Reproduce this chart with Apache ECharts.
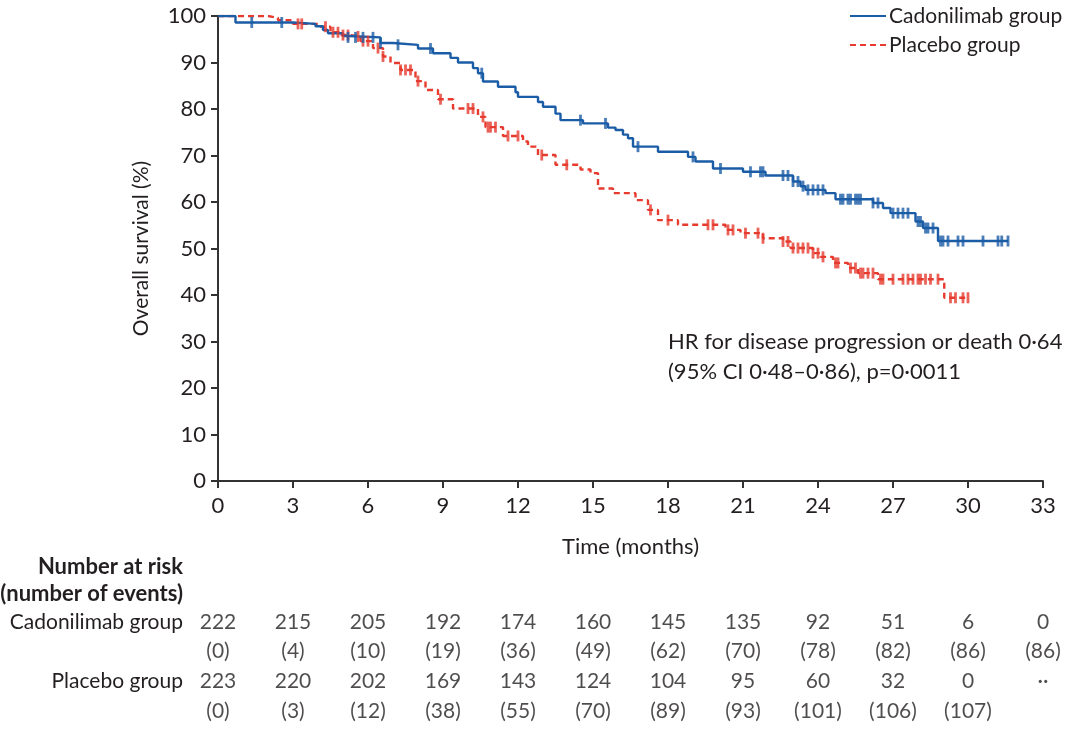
<!DOCTYPE html>
<html>
<head>
<meta charset="utf-8">
<script src="https://cdn.jsdelivr.net/npm/echarts@6/dist/echarts.min.js"></script>
<style>
html,body{margin:0;padding:0;background:#fff;}
#chart{width:1080px;height:738px;}
</style>
</head>
<body>
<div id="chart"></div>
<script>
// ---- Data ----
const cadoTimes = [0, 0.7, 3.0, 3.9, 4.2, 4.4, 5.0, 5.2, 6.5, 7.0, 8.0, 8.6, 9.3, 9.6, 10.2, 10.4, 10.6, 11.2, 11.9, 12.0, 12.8, 13.0, 13.5, 13.7, 14.6, 15.6, 15.9, 16.2, 16.4, 16.6, 17.6, 18.8, 19.1, 19.8, 21.0, 21.9, 23.0, 23.3, 23.5, 24.3, 24.7, 26.2, 26.6, 26.9, 27.9, 28.2, 28.8, 31.6];
const cadoSurv  = [100, 98.6, 98.3, 97.8, 97.0, 96.3, 95.7, 95.4, 94.2, 93.8, 93.0, 92.0, 91.0, 90.0, 88.8, 87.7, 85.9, 84.8, 83.6, 82.6, 81.5, 80.5, 79.0, 77.6, 76.9, 76.0, 75.5, 74.5, 73.7, 71.9, 70.8, 69.7, 68.7, 67.2, 66.5, 65.7, 64.4, 63.4, 62.6, 61.9, 60.6, 59.8, 58.7, 57.6, 55.8, 54.4, 51.6, 51.6];
const placTimes = [0, 2.0, 2.4, 3.0, 4.1, 4.5, 4.9, 5.3, 5.7, 6.2, 6.6, 6.9, 7.3, 7.9, 8.3, 8.8, 9.4, 10.4, 10.7, 11.4, 12.2, 12.4, 12.8, 13.5, 14.5, 14.9, 15.2, 15.8, 16.7, 17.2, 17.6, 18.4, 20.3, 20.9, 21.8, 22.6, 22.9, 23.8, 24.1, 24.6, 25.2, 25.6, 26.4, 29.05, 30.0];
const placSurv  = [100, 99.6, 99.1, 98.3, 97.7, 96.5, 95.9, 95.6, 94.6, 93.1, 91.3, 89.9, 88.4, 86.0, 84.1, 82.1, 80.1, 78.3, 76.1, 74.2, 73.0, 71.9, 70.1, 68.0, 67.0, 66.2, 62.9, 61.9, 60.4, 58.3, 56.1, 55.1, 54.0, 53.3, 52.2, 51.5, 50.1, 49.0, 48.2, 46.9, 45.8, 44.7, 43.4, 39.4, 39.4];
const cadoCensor = [1.35, 2.55, 5.2, 5.5, 5.8, 6.2, 6.5, 7.2, 8.5, 10.55, 14.5, 15.5, 16.8, 19.0, 20.1, 21.3, 21.7, 21.8, 22.6, 22.8, 23.0, 23.2, 23.4, 23.6, 23.8, 24.0, 24.2, 24.9, 25.0, 25.2, 25.3, 25.5, 25.6, 25.7, 26.2, 26.4, 27.0, 27.2, 27.4, 27.6, 28.0, 28.1, 28.3, 28.4, 28.6, 28.9, 29.0, 29.2, 29.6, 29.8, 30.6, 31.2, 31.35, 31.6];
const placCensor = [3.2, 3.35, 4.3, 4.6, 4.8, 5.0, 5.2, 5.6, 5.8, 6.0, 6.4, 6.6, 7.3, 7.5, 7.7, 8.0, 8.9, 10.0, 10.2, 10.6, 10.8, 10.9, 11.1, 11.6, 12.0, 12.95, 13.95, 17.3, 18.0, 19.6, 19.8, 20.4, 20.6, 21.1, 21.6, 21.8, 22.6, 22.8, 23.0, 23.2, 23.4, 23.6, 23.8, 24.0, 24.2, 24.7, 24.8, 25.3, 25.5, 25.7, 25.8, 26.0, 26.2, 26.5, 26.6, 27.0, 27.4, 27.6, 27.8, 28.0, 28.1, 28.3, 28.5, 28.8, 29.3, 29.5, 29.8, 30.0];
const riskTimes  = [0, 3, 6, 9, 12, 15, 18, 21, 24, 27, 30, 33];
const cadoRisk   = ['222', '215', '205', '192', '174', '160', '145', '135', '92', '51', '6', '0'];
const cadoEvents = ['(0)', '(4)', '(10)', '(19)', '(36)', '(49)', '(62)', '(70)', '(78)', '(82)', '(86)', '(86)'];
const placRisk   = ['223', '220', '202', '169', '143', '124', '104', '95', '60', '32', '0', '··'];
const placEvents = ['(0)', '(3)', '(12)', '(38)', '(55)', '(70)', '(89)', '(93)', '(101)', '(106)', '(107)', ''];
const rowLabels  = ['Cadonilimab group', '', 'Placebo group', ''];

// ---- Style ----
const BLUE = '#1b5ca6';
const RED = '#e63b2e';
const TXT = '#231f20';
const FONT = 'Lato';

function stepAt(times, surv, t) {
  let v = surv[0];
  for (let i = 0; i < times.length; i++) { if (times[i] <= t) v = surv[i]; else break; }
  return v;
}
const zip = (a, b) => a.map((v, i) => [v, b[i]]);

const tableData = [];
[cadoRisk, cadoEvents, placRisk, placEvents].forEach((row, r) => {
  row.forEach((txt, i) => { if (txt !== '') tableData.push({ value: [riskTimes[i], r], txt: txt }); });
});

const chart = echarts.init(document.getElementById('chart'));
chart.setOption({
  animation: false,
  textStyle: { fontFamily: FONT },
  grid: [
    { left: 218, right: 37, top: 16, bottom: 257 },
    { left: 218, right: 37, top: 607, height: 119 }
  ],
  xAxis: [
    {
      gridIndex: 0, type: 'value', min: 0, max: 33, interval: 3,
      name: 'Time (months)', nameLocation: 'middle', nameGap: 55,
      nameTextStyle: { fontSize: 22, color: TXT, fontFamily: FONT },
      axisLine: { lineStyle: { color: '#333', width: 2 } },
      axisTick: { length: 7, lineStyle: { color: '#333', width: 2 } },
      axisLabel: { fontSize: 22, color: TXT, margin: 14, fontFamily: FONT },
      splitLine: { show: false }
    },
    {
      gridIndex: 1, type: 'value', min: 0, max: 33, interval: 3, show: false
    }
  ],
  yAxis: [
    {
      gridIndex: 0, type: 'value', min: 0, max: 100, interval: 10,
      name: 'Overall survival (%)', nameLocation: 'middle', nameGap: 66,
      nameTextStyle: { fontSize: 21, color: TXT, fontFamily: FONT },
      axisLine: { show: true, lineStyle: { color: '#333', width: 2 } },
      axisTick: { show: true, length: 7, lineStyle: { color: '#333', width: 2 } },
      axisLabel: { fontSize: 22, color: TXT, margin: 12, fontFamily: FONT },
      splitLine: { show: false }
    },
    {
      gridIndex: 1, type: 'category', inverse: true, data: rowLabels,
      axisLine: { show: false }, axisTick: { show: false }, splitLine: { show: false },
      axisLabel: { fontSize: 21, color: TXT, margin: 35, fontFamily: FONT, interval: 0 }
    }
  ],
  series: [
    {
      name: 'Cadonilimab group', type: 'line', step: 'end', xAxisIndex: 0, yAxisIndex: 0,
      data: zip(cadoTimes, cadoSurv), showSymbol: false, symbol: 'none',
      lineStyle: { color: BLUE, width: 2.4 }, z: 3
    },
    {
      name: 'Placebo group', type: 'line', step: 'end', xAxisIndex: 0, yAxisIndex: 0,
      data: zip(placTimes, placSurv), showSymbol: false, symbol: 'none',
      lineStyle: { color: RED, width: 2.4, type: [6, 4] }, z: 2
    },
    {
      name: 'cadoCensor', type: 'scatter', xAxisIndex: 0, yAxisIndex: 0,
      data: cadoCensor.map(t => [t, stepAt(cadoTimes, cadoSurv, t)]),
      symbol: 'rect', symbolSize: [2.8, 11], itemStyle: { color: BLUE }, z: 4
    },
    {
      name: 'placCensor', type: 'scatter', xAxisIndex: 0, yAxisIndex: 0,
      data: placCensor.map(t => [t, stepAt(placTimes, placSurv, t)]),
      symbol: 'rect', symbolSize: [2.8, 11], itemStyle: { color: RED }, z: 3
    },
    {
      name: 'table', type: 'scatter', xAxisIndex: 1, yAxisIndex: 1,
      data: tableData, symbolSize: 1, itemStyle: { color: 'rgba(0,0,0,0)' },
      label: { show: true, position: 'inside', fontSize: 21, color: TXT, fontFamily: FONT,
        formatter: p => p.data.txt },
      silent: true
    }
  ],
  graphic: [
    { type: 'line', shape: { x1: 850, y1: 16, x2: 886, y2: 16 }, style: { stroke: BLUE, lineWidth: 2 } },
    { type: 'text', left: 889, top: 6, style: { text: 'Cadonilimab group', fontSize: 21, fill: TXT, fontFamily: FONT } },
    { type: 'line', shape: { x1: 850, y1: 45, x2: 886, y2: 45 }, style: { stroke: RED, lineWidth: 2, lineDash: [6, 4] } },
    { type: 'text', left: 889, top: 35, style: { text: 'Placebo group', fontSize: 21, fill: TXT, fontFamily: FONT } },
    { type: 'text', left: 668, top: 331, style: { text: 'HR for disease progression or death 0·64', fontSize: 22, fill: TXT, fontFamily: FONT } },
    { type: 'text', left: 668, top: 361, style: { text: '(95% CI 0·48–0·86), p=0·0011', fontSize: 22, fill: TXT, fontFamily: FONT } },
    { type: 'text', right: 897, top: 556, style: { text: 'Number at risk', fontSize: 22, fontWeight: 'bold', fill: TXT, fontFamily: FONT, align: 'right' } },
    { type: 'text', right: 897, top: 583, style: { text: '(number of events)', fontSize: 22, fontWeight: 'bold', fill: TXT, fontFamily: FONT, align: 'right' } }
  ]
});
</script>
</body>
</html>
